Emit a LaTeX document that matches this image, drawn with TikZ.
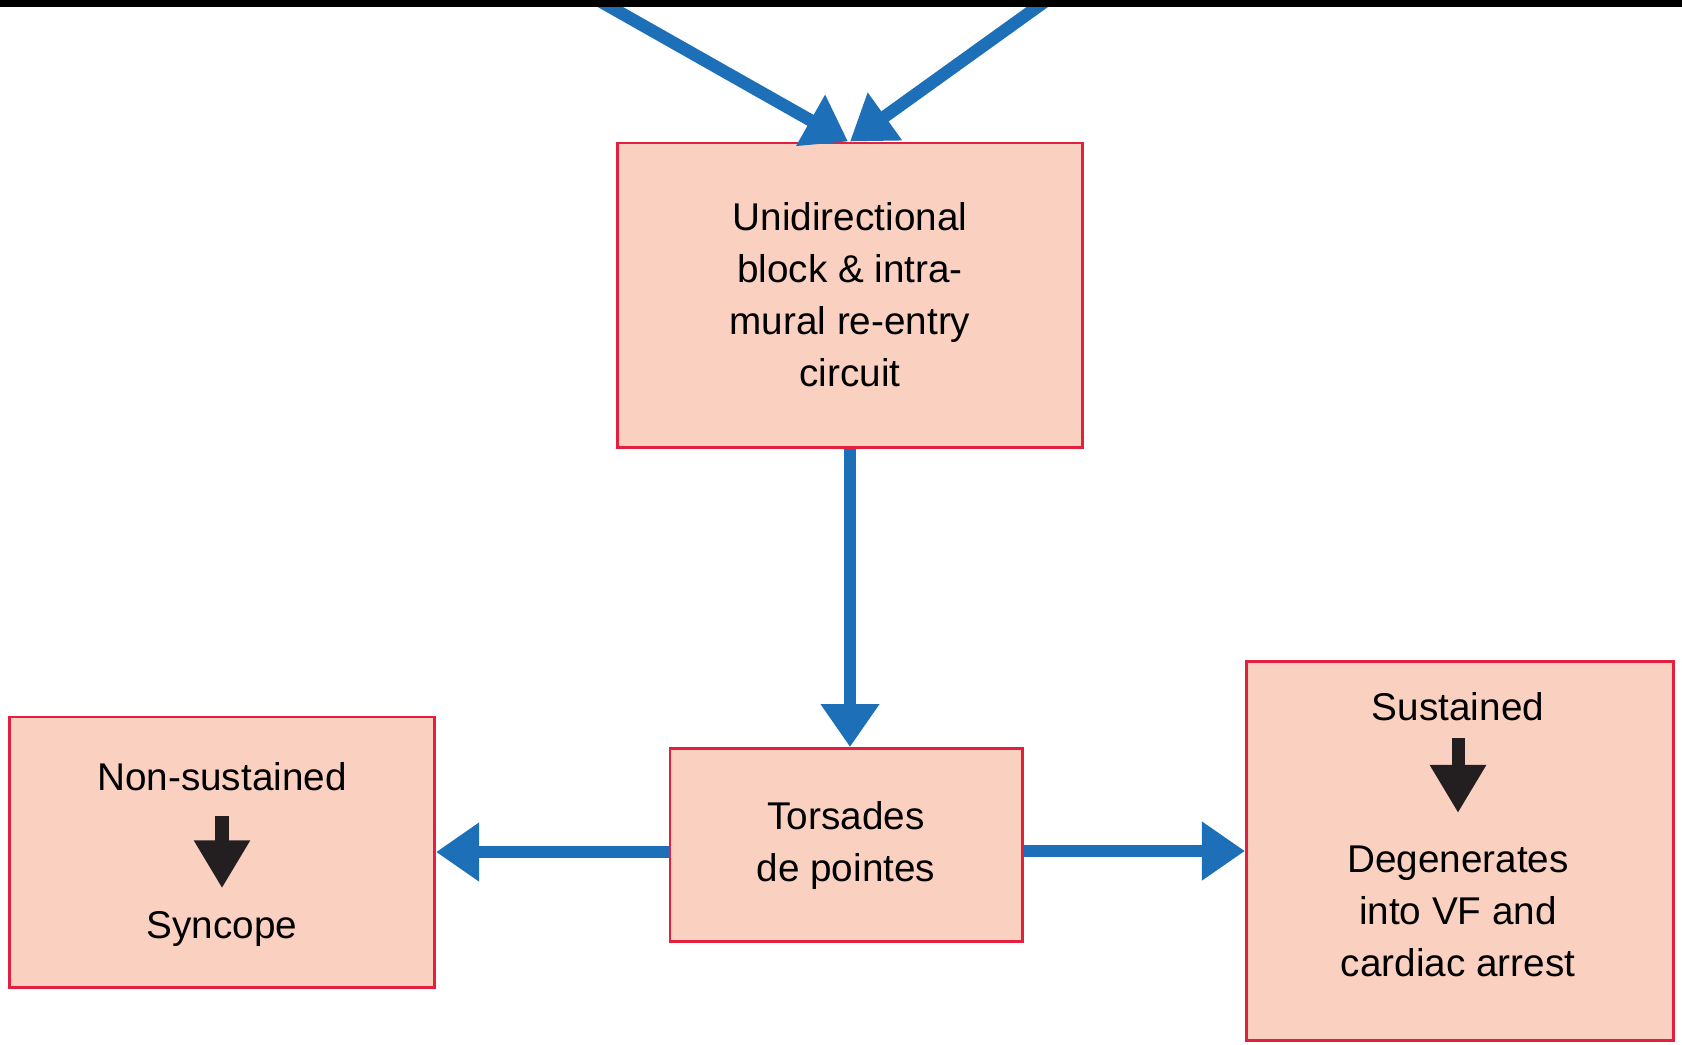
\documentclass[tikz,border=0pt]{standalone}
\usepackage{fontspec}
\setmainfont{Liberation Sans}
\usetikzlibrary{arrows.meta}
\definecolor{arrowblue}{HTML}{1D6FB8}
\definecolor{boxfill}{HTML}{FAD0C1}
\definecolor{boxline}{HTML}{E3213F}
\definecolor{inkblack}{HTML}{231F20}

\begin{document}
\begin{tikzpicture}[x=0.01cm,y=-0.01cm,
  box/.style={draw=boxline,fill=boxfill,line width=0.8pt,inner sep=0pt,align=center,font=\fontsize{11}{14.8}\selectfont},
  lbl/.style={inner sep=0pt,align=center,font=\fontsize{11}{14.8}\selectfont},
  bluearrow/.style={draw=arrowblue,line width=0.125cm,-{Triangle[length=4.3mm,width=5.6mm]}},
  blkarrow/.style={draw=inkblack,line width=0.13cm,-{Triangle[length=4.8mm,width=5.3mm]}}]
\useasboundingbox (0,0) rectangle (1682,1044);

\node[box,minimum width=4.64cm,minimum height=3.04cm] (ub) at (850,295) {Unidirectional\\block \& intra-\\mural re-entry\\circuit};
\node[box,minimum width=3.52cm,minimum height=1.93cm] (tp) at (846,845) {Torsades\\de pointes};
\node[box,minimum width=4.25cm,minimum height=2.70cm] (nsb) at (222,852) {};
\node[box,minimum width=4.27cm,minimum height=3.79cm] (sb) at (1460,851) {};

\node[lbl,anchor=base] (ns) at (222,790) {Non-sustained};
\node[lbl,anchor=base] (syn) at (222,938) {Syncope};
\node[lbl,anchor=base] (sus) at (1458,720) {Sustained};
\node[lbl,anchor=north] (deg) at (1458,845) {Degenerates\\into VF and\\cardiac arrest};

\draw[blkarrow] ([yshift=-0.25cm]ns.south) -- ([yshift=0.22cm]syn.north);
\draw[blkarrow] ([yshift=-0.17cm]sus.south) -- ([yshift=0.32cm]deg.north);

\coordinate (inL) at (598,0);
\coordinate (inR) at (1047,0);
\draw[bluearrow] (inL) -- ([xshift=-0.02cm]ub.north);
\draw[bluearrow] (inR) -- (ub.north);
\draw[bluearrow] (ub.south) -- (ub.south |- tp.north);
\draw[bluearrow] (nsb.east -| tp.west) -- (nsb.east);
\draw[bluearrow] (sb.west -| tp.east) -- (sb.west);

\fill[black] (0,0) rectangle (1682,7);
\end{tikzpicture}
\end{document}
